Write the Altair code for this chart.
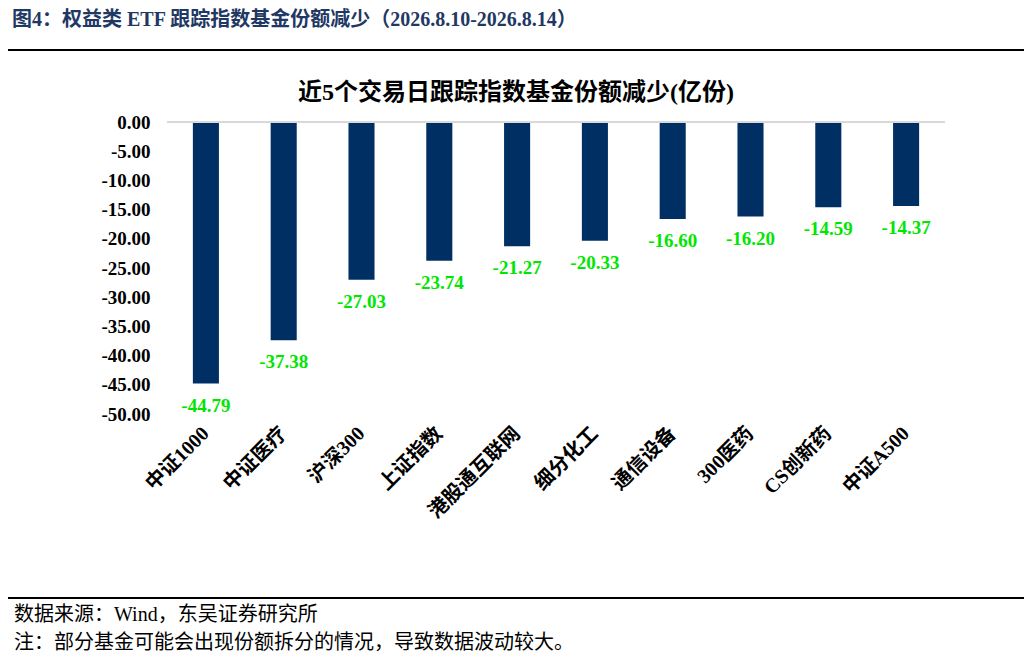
import pandas as pd
import altair as alt

# Data
funds = ["中证1000", "中证医疗", "沪深300", "上证指数", "港股通互联网",
         "细分化工", "通信设备", "300医药", "CS创新药", "中证A500"]
change = [-44.79, -37.38, -27.03, -23.74, -21.27,
          -20.33, -16.60, -16.20, -14.59, -14.37]
y_ticks = [0, -5, -10, -15, -20, -25, -30, -35, -40, -45, -50]

header = "图4：权益类 ETF 跟踪指数基金份额减少（2026.8.10-2026.8.14）"
chart_title = "近5个交易日跟踪指数基金份额减少(亿份)"
source = "数据来源：Wind，东吴证券研究所"
note = "注：部分基金可能会出现份额拆分的情况，导致数据波动较大。"

FONT = "Liberation Serif, Times New Roman, Noto Sans CJK SC"
NAVY = "#003063"

df = pd.DataFrame({"fund": funds, "change": change})
# plain hyphen minus like the original labels
df["label"] = [f"{v:.2f}" for v in change]

x = alt.X("fund:N", sort=funds, title=None,
          scale=alt.Scale(paddingInner=0.665, paddingOuter=0.3325),
          axis=alt.Axis(labelAngle=-45, labelAlign="right", labelBaseline="middle",
                        labelFontSize=20, labelFontWeight="bold", labelColor="black",
                        labelFont=FONT, labelPadding=16, ticks=False, domain=False))
y = alt.Y("change:Q", title=None,
          scale=alt.Scale(domain=[-50, 0], nice=False, zero=True),
          axis=alt.Axis(values=y_ticks, format=".2f", grid=False, ticks=False,
                        domain=False, labelFontSize=19, labelFontWeight="bold",
                        labelColor="black", labelFont=FONT, labelPadding=17,
                        labelOverlap=False,
                        labelExpr="replace(datum.label, '\u2212', '-')"))

base = alt.Chart(df)

bars = base.mark_bar(color=NAVY).encode(x=x, y=y)

labels = base.mark_text(
    color="#00e600", fontSize=19, fontWeight="bold", font=FONT,
    baseline="middle", dy=22
).encode(x=x, y=y, text="label:N")

# light grey line along the zero value
zero_line = alt.Chart(pd.DataFrame({"change": [0]})).mark_rule(
    color="#d9d9d9", strokeWidth=2
).encode(y=y)


# Page decorations: header, rules and footer text
def text_at(txt, px, py, size, color="black", weight="normal", align="left"):
    return alt.Chart(pd.DataFrame({"t": [txt]})).mark_text(
        fontSize=size, color=color, fontWeight=weight, font=FONT,
        align=align, baseline="middle"
    ).encode(x=alt.value(px), y=alt.value(py), text="t:N")


def hline(py, width):
    return alt.Chart(pd.DataFrame({"t": [0]})).mark_rule(
        color="black", strokeWidth=width
    ).encode(x=alt.value(-159), x2=alt.value(857), y=alt.value(py))


decor = (
    text_at(header, -155, -102, 20, color="#1f3864", weight="bold")
    + hline(-72, 2)
    + text_at(chart_title, 349, -29, 24, weight="bold", align="center")
    + hline(476, 2)
    + text_at(source, -153, 493, 20)
    + text_at(note, -153, 521, 20)
)

chart = (
    (bars + zero_line + labels + decor)
    .properties(width=778, height=292,
                autosize=alt.AutoSizeParams(type="none"),
                padding={"left": 159, "top": 114, "right": 79, "bottom": 240})
    .configure_view(stroke=None)
)

chart.save("out.html", embed_options={"renderer": "svg", "actions": False})
